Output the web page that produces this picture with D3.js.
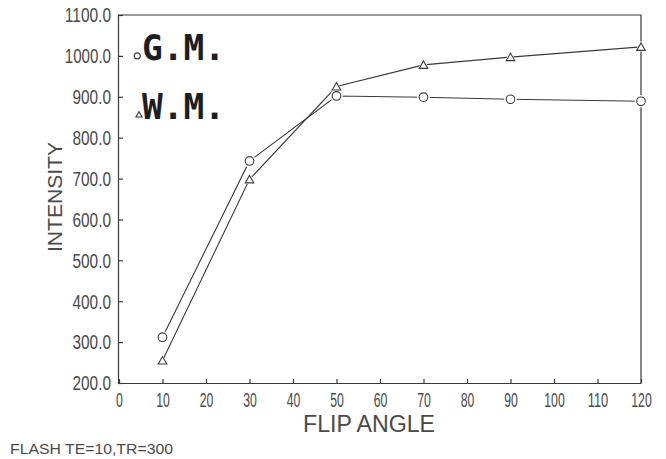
<!DOCTYPE html>
<html><head><meta charset="utf-8">
<script src="https://cdn.jsdelivr.net/npm/d3@7"></script>
<style>body{margin:0;background:#fff}</style>
</head><body>
<svg id="c" width="666" height="459"></svg>
<script>
const angles = [10, 30, 50, 70, 90, 120];
const gmValues = [312, 743, 902, 899, 894, 889];
const wmValues = [255, 698, 925, 978, 997, 1022];
const xTicks = [0,10,20,30,40,50,60,70,80,90,100,110,120];
const yTicks = [200,300,400,500,600,700,800,900,1000,1100];
const legendLabels = ["G.M.", "W.M."];
const legendValues = [1000, 855];
const legendAngles = [4.2, 4.6];

const svg = d3.select("#c");
svg.append("rect").attr("width",666).attr("height",459).attr("fill","#fff");
const L = 118, R = 641, T = 15, B = 383;
const x = d3.scaleLinear().domain([0,120]).range([L+1, R]);
const y = d3.scaleLinear().domain([200,1100]).range([B, T]);
const ink = "#3a3a3a", txt = "#4a4a4a";

// frame
svg.append("path").attr("d",`M${L},${T}H${R}V${B}`).attr("fill","none").attr("stroke",ink).attr("stroke-width",1.2);

const gx = svg.append("g").attr("transform",`translate(0,${B})`)
  .call(d3.axisBottom(x).tickValues(xTicks).tickFormat(d=>String(d)).tickSizeInner(-4).tickSizeOuter(0).tickPadding(10));
const gy = svg.append("g").attr("transform",`translate(${L},0)`)
  .call(d3.axisLeft(y).tickValues(yTicks).tickFormat(d=>d.toFixed(1)).tickSizeInner(-5).tickSizeOuter(0).tickPadding(7));
[gx,gy].forEach(g=>{
  g.select(".domain").attr("stroke",ink).attr("stroke-width",1.2);
  g.selectAll(".tick line").attr("stroke",ink).attr("stroke-width",1.2);
  g.selectAll(".tick text").attr("fill",txt).attr("font-family","Liberation Sans, Arial, sans-serif")
   .attr("font-size",20).attr("lengthAdjust","spacingAndGlyphs");
});
gx.selectAll(".tick text").attr("textLength",d=>String(d).length*6.8);
gy.selectAll(".tick text").attr("textLength",d=>d.toFixed(1).length*7.7).attr("dy","0.34em");

// axis titles
svg.append("text").attr("transform",`translate(62,197) rotate(-90)`).attr("text-anchor","middle")
  .attr("font-family","Liberation Sans, Arial, sans-serif").attr("font-size",21).attr("fill",txt)
  .attr("textLength",110).attr("lengthAdjust","spacingAndGlyphs").text("INTENSITY");
svg.append("text").attr("x",369).attr("y",432).attr("text-anchor","middle")
  .attr("font-family","Liberation Sans, Arial, sans-serif").attr("font-size",23).attr("fill",txt)
  .attr("textLength",132).attr("lengthAdjust","spacingAndGlyphs").text("FLIP ANGLE");
svg.append("text").attr("x",10).attr("y",454)
  .attr("font-family","Liberation Sans, Arial, sans-serif").attr("font-size",14).attr("fill",txt)
  .attr("textLength",163).attr("lengthAdjust","spacingAndGlyphs").text("FLASH TE=10,TR=300");

// lines
const line = d3.line().x(d=>x(d[0])).y(d=>y(d[1]));
const gm = angles.map((a,i)=>[a,gmValues[i]]);
const wm = angles.map((a,i)=>[a,wmValues[i]]);
[gm,wm].forEach(s=>svg.append("path").datum(s).attr("d",line).attr("fill","none").attr("stroke",ink).attr("stroke-width",1.1));

const tri = d3.symbol().type(d3.symbolTriangle);
function circ(px,py,r){
  svg.append("circle").attr("cx",px).attr("cy",py).attr("r",r+2).attr("fill","#fff");
  svg.append("circle").attr("cx",px).attr("cy",py).attr("r",r).attr("fill","#fff").attr("stroke",ink).attr("stroke-width",1.1);
}
function triangle(px,py,size){
  svg.append("path").attr("transform",`translate(${px},${py+1})`).attr("d",tri.size(size*2)()).attr("fill","#fff");
  svg.append("path").attr("transform",`translate(${px},${py+1})`).attr("d",tri.size(size)()).attr("fill","#fff").attr("stroke",ink).attr("stroke-width",1.1);
}
gm.forEach(d=>circ(x(d[0]),y(d[1]),4.3));
wm.forEach(d=>triangle(x(d[0]),y(d[1]),32));

// legend
circ(x(legendAngles[0]), y(legendValues[0]), 3);
triangle(x(legendAngles[1]), y(legendValues[1])-1, 16);
legendLabels.forEach((t,i)=>{
  svg.append("text").attr("x",142).attr("y", i===0?60:119)
    .attr("font-family","DejaVu Sans Mono, monospace").attr("font-weight","bold").attr("font-size",36)
    .attr("fill","#1e1e1e").attr("textLength",83).attr("lengthAdjust","spacingAndGlyphs").text(t);
});
</script>
</body></html>
